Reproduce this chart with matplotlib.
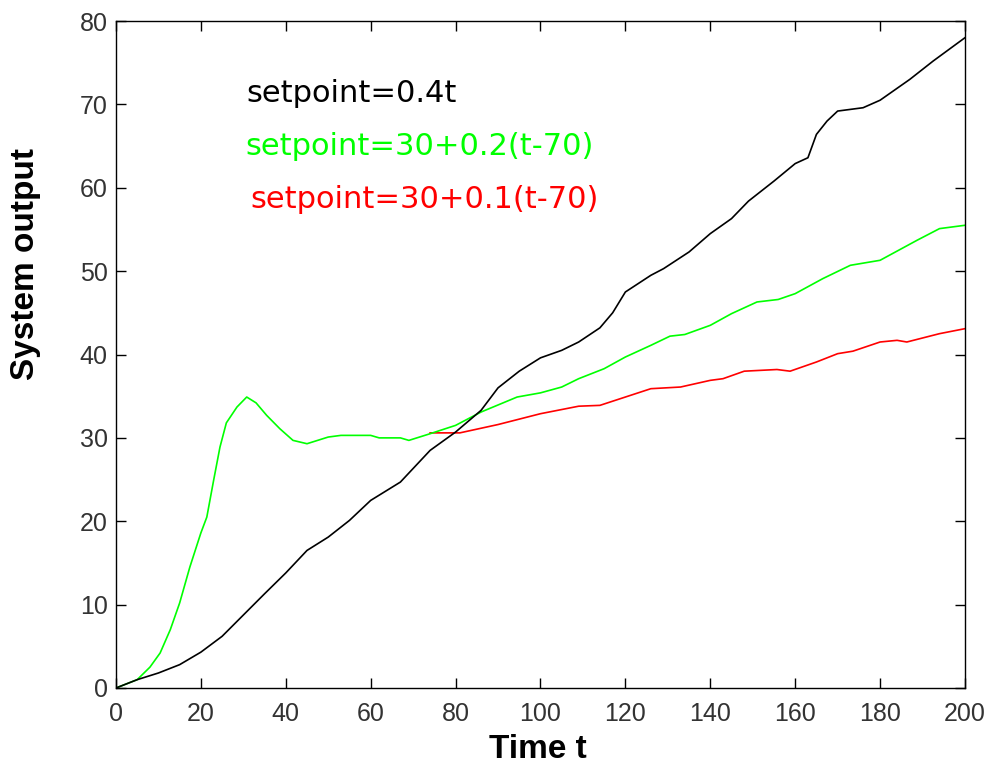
import matplotlib
matplotlib.use("Agg")
import matplotlib.pyplot as plt

# ---- data ----
black_t = [0, 5, 10, 15, 20, 25, 30, 35, 40, 45, 50, 55, 60, 67, 74, 80, 86,
           90, 95, 100, 105, 109, 114, 117, 120, 126, 129, 135, 140, 145, 149,
           155, 160, 163, 165, 167.5, 170, 176, 180, 187, 192.5, 200]
black_y = [0, 1.0, 1.8, 2.8, 4.3, 6.2, 8.75, 11.3, 13.8, 16.5, 18.1, 20.1,
           22.5, 24.7, 28.5, 30.7, 33.3, 36.0, 38.0, 39.6, 40.5, 41.5, 43.2,
           45.0, 47.5, 49.5, 50.3, 52.3, 54.5, 56.3, 58.4, 60.8, 62.9, 63.6,
           66.4, 68.0, 69.2, 69.6, 70.5, 73.0, 75.2, 78.0]

green_t = [0, 5, 8, 10.4, 12.8, 15, 17.4, 20, 21.4, 23, 24.5, 26, 28.5, 30.8,
           33, 35.5, 38.6, 41.7, 45, 50, 53, 60, 62, 67, 69, 74, 80, 86, 94.5,
           100, 105, 109, 115, 120, 126, 130.5, 134, 140, 145, 151, 156, 160,
           166.5, 173, 180, 188.7, 194, 200]
green_y = [0, 1.0, 2.5, 4.2, 7.0, 10.2, 14.5, 18.6, 20.5, 24.9, 28.9, 31.8,
           33.7, 34.9, 34.2, 32.7, 31.1, 29.7, 29.3, 30.1, 30.3, 30.3, 30.0,
           30.0, 29.7, 30.5, 31.5, 33.1, 34.9, 35.4, 36.1, 37.1, 38.3, 39.7,
           41.1, 42.2, 42.4, 43.5, 44.9, 46.3, 46.6, 47.3, 49.1, 50.7, 51.3,
           53.7, 55.1, 55.5]

red_t = [74, 81, 90, 100, 109, 114, 120, 126, 133, 140, 143, 148, 155.7,
         158.8, 165, 170, 173.6, 180, 184, 186.3, 194, 200]
red_y = [30.6, 30.6, 31.6, 32.9, 33.8, 33.9, 34.9, 35.9, 36.1, 36.9, 37.1,
         38.0, 38.2, 38.0, 39.1, 40.1, 40.4, 41.5, 41.7, 41.5, 42.5, 43.1]

labels = ["setpoint=0.4t", "setpoint=30+0.2(t-70)", "setpoint=30+0.1(t-70)"]
xticks = list(range(0, 201, 20))
yticks = list(range(0, 81, 10))

plt.rcParams["font.family"] = ["Liberation Sans", "DejaVu Sans"]

fig = plt.figure(figsize=(9.87, 7.67), dpi=100)
ax = fig.add_axes([0.1175, 0.103, 0.8602, 0.8696])

ax.plot(red_t, red_y, color="#ff0000", lw=1.2)
ax.plot(green_t, green_y, color="#00ff00", lw=1.2)
ax.plot(black_t, black_y, color="black", lw=1.2)

# annotations (wide font to match the stretched lettering of the original)
ann = dict(fontsize=22, family="DejaVu Sans", va="baseline", ha="left")
ax.text(30.8, 70.3, labels[0], color="black", **ann)
ax.text(30.6, 63.9, labels[1], color="#00ff00", **ann)
ax.text(31.7, 57.6, labels[2], color="#ff0000", **ann)

ax.set_xlim(0, 200)
ax.set_ylim(0, 80)
ax.set_xticks(xticks)
ax.set_yticks(yticks)
ax.tick_params(direction="in", length=7, width=1.0, top=True, right=True,
               labelsize=18, labelcolor="#333333")
ax.tick_params(axis="x", pad=10)
ax.tick_params(axis="y", pad=6)
for s in ax.spines.values():
    s.set_linewidth(1.0)

ax.set_xlabel("Time t", fontsize=24, fontweight="bold")
ax.set_ylabel("System output", fontsize=24, fontweight="bold")
ax.xaxis.set_label_coords(0.4965, -0.0915)
ax.yaxis.set_label_coords(-0.106, 0.636)
ax.xaxis.label.set_va("center")
ax.yaxis.label.set_va("center")

fig.savefig("out.png", dpi=100)
